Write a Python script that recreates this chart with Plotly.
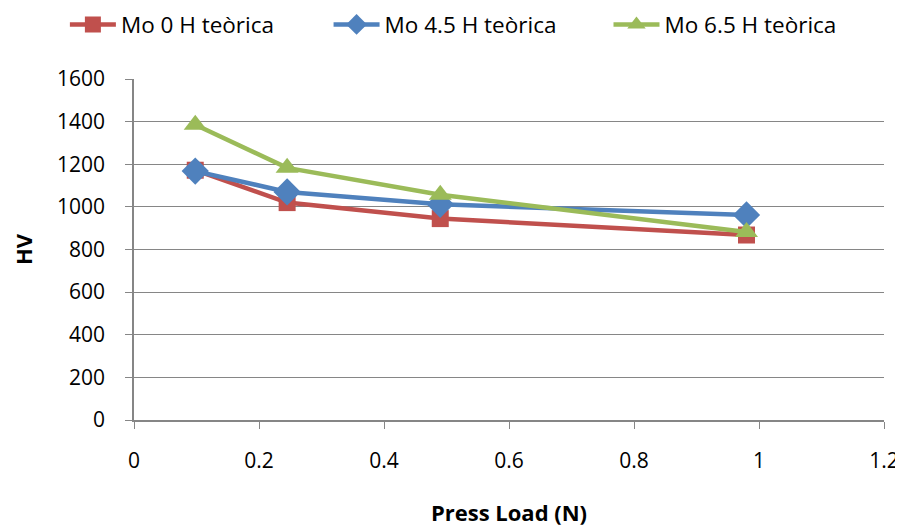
"""Vickers hardness vs press load, three Mo series."""

import plotly.graph_objects as go

press_load = [0.098, 0.245, 0.49, 0.98]
hv_mo0 = [1172, 1020, 945, 868]
hv_mo45 = [1168, 1070, 1012, 962]
hv_mo65 = [1385, 1183, 1057, 882]

series = [
    ("Mo 0 H teòrica", hv_mo0, "#C0504D", "square", 17, "legend", 0.063),
    ("Mo 4.5 H teòrica", hv_mo45, "#4F81BD", "diamond", 21, "legend2", 0.355),
    ("Mo 6.5 H teòrica", hv_mo65, "#9BBB59", "triangle-up", 20, "legend3", 0.665),
]

FONT = "Open Sans, Liberation Sans, sans-serif"
AXIS_GREY = "#868686"

fig = go.Figure()
legends = {}
for name, values, color, symbol, size, legend_id, legend_x in series:
    fig.add_trace(
        go.Scatter(
            x=press_load,
            y=values,
            name=name,
            mode="lines+markers",
            line={"color": color, "width": 4.5},
            marker={"symbol": symbol, "size": size, "color": color},
            legend=legend_id,
            showlegend=True,
        )
    )
    # one legend per series so each entry sits where the original has it
    legends[legend_id] = {
        "orientation": "h",
        "x": legend_x,
        "xanchor": "left",
        "xref": "container",
        "y": 0.968,
        "yanchor": "middle",
        "yref": "container",
        "font": {"size": 22.5},
        "itemwidth": 46,
        "bgcolor": "rgba(0,0,0,0)",
    }

# page body adds an 8px offset, so margins are trimmed by that much
fig.update_layout(
    template="none",
    showlegend=True,
    width=903,
    height=526,
    margin={"l": 126, "r": 27, "t": 71, "b": 114},
    plot_bgcolor="white",
    paper_bgcolor="white",
    font={"family": FONT, "size": 21, "color": "#000000"},
    xaxis={
        "range": [0, 1.2],
        "dtick": 0.2,
        "tickformat": "~g",
        "showgrid": False,
        "zeroline": False,
        "showline": True,
        "linecolor": AXIS_GREY,
        "linewidth": 1.5,
        "ticks": "outside",
        "ticklen": 7,
        "tickcolor": AXIS_GREY,
        "ticklabelstandoff": 14,
        "automargin": False,
        "title": {"text": "<b>Press Load (N)</b>", "standoff": 33, "font": {"size": 22}},
    },
    yaxis={
        "range": [0, 1600],
        "dtick": 200,
        "showgrid": True,
        "gridcolor": AXIS_GREY,
        "gridwidth": 1.3,
        "zeroline": False,
        "showline": True,
        "linecolor": AXIS_GREY,
        "linewidth": 1.5,
        "ticks": "outside",
        "ticklen": 7,
        "tickcolor": AXIS_GREY,
        "ticklabelstandoff": 16,
        "automargin": False,
        "title": {"text": "<b>HV</b>", "standoff": 24, "font": {"size": 22}},
    },
    **legends,
)

fig.write_html("out.html")
